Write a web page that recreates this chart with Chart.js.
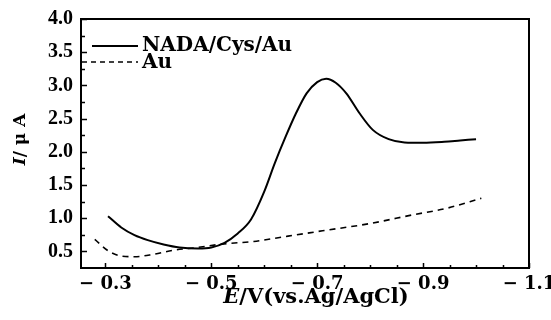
<!DOCTYPE html>
<html><head><meta charset="utf-8">
<script src="https://cdn.jsdelivr.net/npm/chart.js@4"></script>
<style>html,body{margin:0;padding:0;background:#fff;}#wrap{width:551px;height:320px;}</style>
</head><body><div id="wrap"><canvas id="c" width="551" height="320"></canvas></div>
<script>
// ---- data ----
const seriesNames = ['NADA/Cys/Au', 'Au'];
const nadaE = [-0.305, -0.33, -0.355, -0.38, -0.41, -0.44, -0.475, -0.50, -0.525, -0.55, -0.575, -0.60, -0.62, -0.64, -0.66, -0.68, -0.70, -0.717, -0.735, -0.755, -0.78, -0.805, -0.835, -0.865, -0.90, -0.94, -0.97, -1.0];
const nadaI = [1.03, 0.86, 0.745, 0.67, 0.605, 0.56, 0.545, 0.56, 0.63, 0.77, 0.98, 1.40, 1.83, 2.22, 2.58, 2.88, 3.05, 3.10, 3.04, 2.88, 2.58, 2.33, 2.19, 2.14, 2.135, 2.15, 2.17, 2.19];
const auE = [-0.28, -0.305, -0.33, -0.355, -0.39, -0.43, -0.47, -0.52, -0.58, -0.645, -0.71, -0.80, -0.88, -0.945, -1.01];
const auI = [0.68, 0.51, 0.43, 0.42, 0.455, 0.52, 0.555, 0.61, 0.65, 0.73, 0.81, 0.92, 1.05, 1.15, 1.30];
const xMajorTicks = [-0.3, -0.5, -0.7, -0.9, -1.1];
const xMinorTicks = [-0.35, -0.4, -0.45, -0.55, -0.6, -0.65, -0.75, -0.8, -0.85, -0.95, -1.0, -1.05];
const yMajorTicks = [0.5, 1.0, 1.5, 2.0, 2.5, 3.0, 3.5, 4.0];
const yMinorTicks = [0.75, 1.25, 1.75, 2.25, 2.75, 3.25, 3.75];
const xTitleParts = [['E', true], ['/V(vs.Ag/AgCl)', false]];
const yTitleParts = [['I', true], ['/ μ A', false]];

const SERIF = "'DejaVu Serif', 'Liberation Serif', serif";
const isMajor = (v, list) => list.some(m => Math.abs(m - v) < 1e-6);

function rich(ctx, parts, size) {
  const fontOf = it => (it ? 'italic ' : '') + 'bold ' + size + 'px ' + SERIF;
  const widths = parts.map(([t, it]) => { ctx.font = fontOf(it); return ctx.measureText(t).width; });
  const total = widths.reduce((a, b) => a + b, 0);
  return {total, draw: (x0, y0) => {
    let x = x0;
    parts.forEach(([t, it], i) => { ctx.font = fontOf(it); ctx.fillText(t, x, y0); x += widths[i]; });
  }};
}

const framePlugin = {
  id: 'frame',
  afterDraw(chart) {
    const ctx = chart.ctx, a = chart.chartArea, xs = chart.scales.x, ys = chart.scales.y;
    ctx.save();
    ctx.strokeStyle = '#000';
    ctx.lineWidth = 2;
    ctx.strokeRect(a.left, a.top, a.right - a.left, a.bottom - a.top);
    ctx.lineWidth = 1.5;
    ctx.beginPath();
    xMajorTicks.concat(xMinorTicks).forEach(v => {
      const x = Math.round(xs.getPixelForValue(v)) + 0.5;
      const L = isMajor(v, xMajorTicks) ? 5 : 3;
      ctx.moveTo(x, a.bottom); ctx.lineTo(x, a.bottom - L);
    });
    yMajorTicks.concat(yMinorTicks).forEach(v => {
      const y = Math.round(ys.getPixelForValue(v)) + 0.5;
      const L = isMajor(v, yMajorTicks) ? 6 : 4;
      ctx.moveTo(a.left, y); ctx.lineTo(a.left + L, y);
    });
    ctx.stroke();

    // legend
    ctx.fillStyle = '#000';
    ctx.textBaseline = 'middle';
    ctx.font = 'bold 20px ' + SERIF;
    const lx = a.left, ty = a.top;
    ctx.lineWidth = 2; ctx.setLineDash([]);
    ctx.beginPath(); ctx.moveTo(lx + 11, ty + 27); ctx.lineTo(lx + 57, ty + 27); ctx.stroke();
    ctx.fillText(chart.data.datasets[0].label, lx + 61, ty + 27);
    ctx.lineWidth = 1.5; ctx.setLineDash([5, 4]);
    ctx.beginPath(); ctx.moveTo(lx + 1, ty + 43); ctx.lineTo(lx + 57, ty + 43); ctx.stroke();
    ctx.setLineDash([]);
    ctx.fillText(chart.data.datasets[1].label, lx + 61, ty + 44);

    // axis titles
    ctx.textBaseline = 'alphabetic';
    ctx.textAlign = 'left';
    const xt = rich(ctx, xTitleParts, 21);
    xt.draw((a.left + a.right) / 2 + 11 - xt.total / 2, 303);
    ctx.translate(25, (a.top + a.bottom) / 2 - 4);
    ctx.rotate(-Math.PI / 2);
    const yt = rich(ctx, yTitleParts, 17);
    yt.draw(-yt.total / 2, 0);
    ctx.restore();
  }
};

const toPts = (E, I) => E.map((e, i) => ({x: e, y: I[i]}));

new Chart(document.getElementById('c'), {
  type: 'line',
  data: {
    datasets: [
      {label: seriesNames[0], data: toPts(nadaE, nadaI), borderColor: '#000', borderWidth: 2, pointRadius: 0, cubicInterpolationMode: 'monotone', fill: false},
      {label: seriesNames[1], data: toPts(auE, auI), borderColor: '#000', borderWidth: 1.6, borderDash: [6, 5], pointRadius: 0, cubicInterpolationMode: 'monotone', fill: false}
    ]
  },
  options: {
    responsive: false,
    animation: false,
    devicePixelRatio: 1,
    layout: {padding: {top: 19, right: 22, left: 0, bottom: 0}},
    plugins: {legend: {display: false}, tooltip: {enabled: false}},
    scales: {
      x: {
        type: 'linear', reverse: true, min: -1.1, max: -0.254,
        grid: {display: false, drawTicks: false},
        border: {display: false},
        afterBuildTicks: s => { s.ticks = xMajorTicks.map(v => ({value: v})); },
        afterFit: s => { s.height = 52; s.paddingLeft = 0; s.paddingRight = 0; },
        ticks: {
          autoSkip: false, maxRotation: 0, minRotation: 0, padding: 6, color: '#000',
          font: {family: SERIF, weight: 'bold', size: 18},
          callback: v => '− ' + Math.abs(v).toFixed(1)
        }
      },
      y: {
        type: 'linear', min: 0.25, max: 4.0,
        grid: {display: false, drawTicks: false},
        border: {display: false},
        afterBuildTicks: s => { s.ticks = yMajorTicks.map(v => ({value: v})); },
        afterFit: s => { s.width = 81; s.paddingTop = 0; s.paddingBottom = 0; },
        ticks: {
          autoSkip: false, padding: 8, color: '#000',
          font: {family: "'Liberation Serif', serif", weight: 'bold', size: 20},
          callback: v => v.toFixed(1)
        }
      }
    }
  },
  plugins: [framePlugin]
});
</script></body></html>
